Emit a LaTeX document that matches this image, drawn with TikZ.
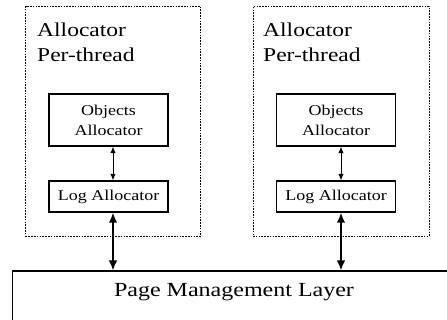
\documentclass[tikz,border=0pt]{standalone}
\usepackage{fontspec}
\setmainfont[FakeStretch=1.2]{Liberation Serif}
\usetikzlibrary{arrows.meta}
\begin{document}
\begin{tikzpicture}[x=1pt,y=-1pt,
  threadbox/.style={draw, line width=1pt, dash pattern=on 1.6pt off 1.2pt, minimum width=175pt, minimum height=230pt, anchor=north west, inner sep=0pt},
  header/.style={anchor=north west, inner sep=0pt, align=left, font=\fontsize{19.6}{25}\selectfont},
  innerbox/.style={draw, line width=1.2pt, minimum width=119pt, inner sep=0pt, align=center, font=\fontsize{15}{20}\selectfont},
  thinarrow/.style={{Latex[length=6.5pt,width=5.5pt]}-{Latex[length=6.5pt,width=5.5pt]}, line width=1pt},
  bigarrow/.style={{Latex[length=10pt,width=8.5pt]}-{Latex[length=10pt,width=8.5pt]}, line width=1.8pt},
  pagebox/.style={draw, line width=1.4pt, minimum width=470pt, minimum height=80pt, anchor=north west, inner sep=0pt}
]
\useasboundingbox (0,0) rectangle (447,320);
\clip (0,0) rectangle (447,320);
% thread boxes
\node[threadbox] (t1) at (25,6) {};
\node[threadbox, minimum width=176pt] (t2) at (252.5,6) {};
\node[header] (h1) at (37,22.6) {Allocator\\Per-thread};
\node[header] (h2) at (263,22.6) {Allocator\\Per-thread};
% inner boxes
\node[innerbox, minimum height=52pt] (o1) at (108.5,120) {Objects\\Allocator};
\node[innerbox, minimum height=31pt] (l1) at (108.5,196.5) {Log Allocator};
\node[innerbox, minimum height=52pt] (o2) at (336,120) {Objects\\Allocator};
\node[innerbox, minimum height=31pt] (l2) at (336,196.5) {Log Allocator};
% page layer
\node[pagebox] (page) at (12,270.5) {};
\node[anchor=base, inner sep=0pt, font=\fontsize{20}{24}\selectfont] (pt) at (234,297) {Page Management Layer};
% arrow columns
\coordinate (c1) at (113,0);
\coordinate (c2) at (341,0);
\draw[thinarrow] (o1.south -| c1) -- (l1.north -| c1);
\draw[thinarrow] (o2.south -| c2) -- (l2.north -| c2);
\draw[bigarrow] (l1.south -| c1) -- (page.north -| c1);
\draw[bigarrow] (l2.south -| c2) -- (page.north -| c2);
\end{tikzpicture}
\end{document}
